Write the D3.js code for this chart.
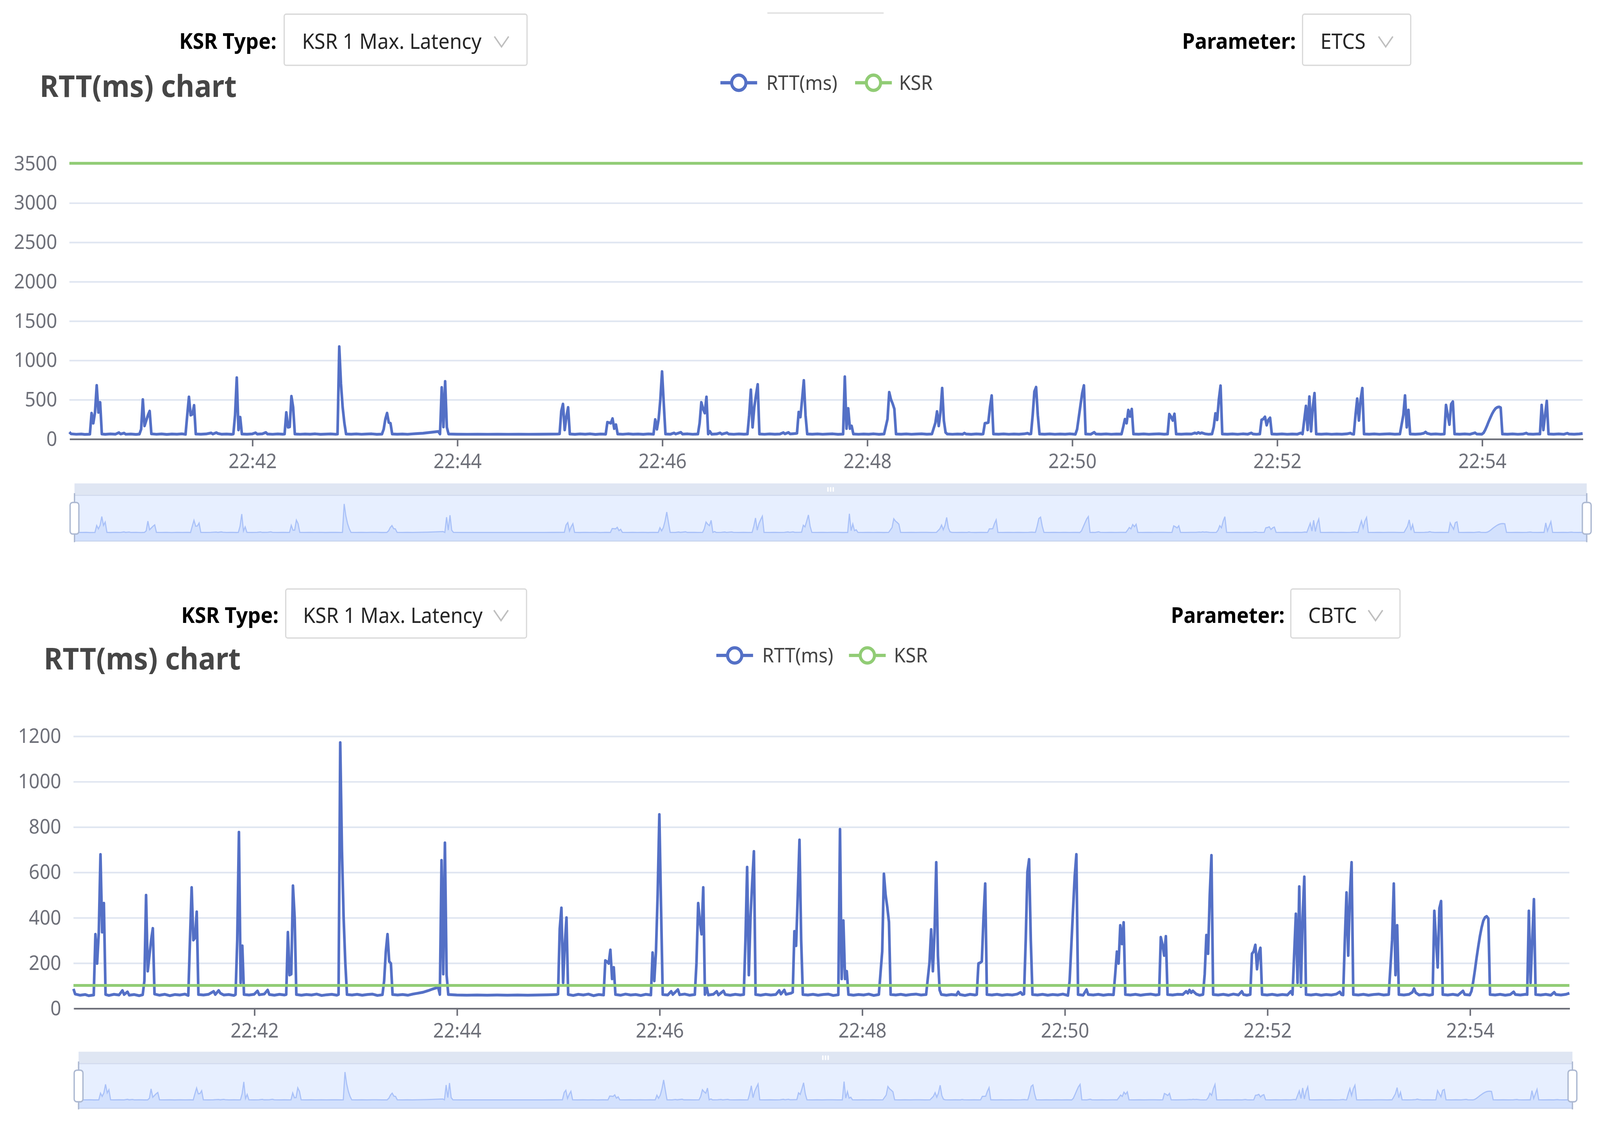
<!DOCTYPE html>
<html lang="en">
<head>
  <meta charset="UTF-8">
  <title>RTT(ms) chart</title>
  <script src="https://cdn.jsdelivr.net/npm/d3@7"></script>
  <style>
    html, body { margin: 0; padding: 0; background: #fff; overflow: hidden; }
    svg { display: block; }
    text { font-family: "Noto Sans", "Open Sans", sans-serif; }
  </style>
</head>
<body>
  <script>
    // ---- data ----
    // RTT samples: [seconds after startClock, rtt in ms]
    const startClock = "22:40:00";
    const rttSamples = [
      [13, 85], [14, 62], [17, 57], [20, 60], [22, 55], [25, 58],
      [26, 326], [27, 197], [28, 335], [29, 678], [30, 335], [31, 463], [32, 60],
      [34, 56], [37, 61], [40, 58], [42, 78], [43, 60], [45, 72], [46, 57], [49, 60], [52, 55], [54, 59],
      [55, 120], [56, 498], [57, 163], [58, 232], [59, 300], [60, 352], [61, 62],
      [64, 57], [67, 61], [70, 55], [73, 60], [76, 58], [79, 62], [81, 56],
      [82, 300], [83, 532], [84, 300], [85, 310], [86, 425], [87, 60],
      [90, 58], [93, 61], [96, 74], [97, 60], [99, 78], [100, 66], [102, 58], [105, 60], [108, 56],
      [109, 60], [110, 300], [111, 776], [112, 112], [113, 275], [114, 60],
      [117, 58], [120, 61], [122, 76], [123, 59], [126, 62], [128, 80], [129, 60], [132, 57], [135, 61], [138, 58],
      [139, 60], [140, 335], [141, 146], [142, 150], [143, 540], [144, 400], [145, 60],
      [148, 57], [151, 60], [154, 58], [157, 62], [160, 56], [163, 59], [166, 61], [169, 57],
      [170, 60], [171, 1171], [172, 700], [173, 400], [174, 200], [175, 60],
      [178, 58], [181, 61], [184, 57], [187, 60], [190, 62], [193, 56], [196, 59],
      [197, 120], [198, 250], [199, 326], [200, 206], [201, 197], [202, 60],
      [205, 58], [208, 60], [211, 57], [214, 62], [217, 66], [220, 70], [223, 77], [226, 85], [229, 92],
      [230, 60], [231, 652], [232, 150], [233, 729], [234, 146], [235, 60],
      [240, 58], [246, 57], [252, 58], [258, 57], [264, 58], [270, 57], [276, 58], [282, 57], [288, 58], [294, 59], [299, 60],
      [300, 62], [301, 350], [302, 442], [303, 112], [304, 280], [305, 399], [306, 60],
      [309, 56], [312, 61], [315, 58], [318, 62], [321, 55], [324, 60], [327, 58],
      [328, 210], [329, 205], [330, 197], [331, 257], [332, 129], [333, 180], [334, 60],
      [337, 57], [340, 62], [343, 58], [346, 60], [349, 56], [352, 61], [355, 58],
      [356, 245], [357, 120], [358, 249], [359, 500], [360, 854], [361, 446], [362, 60],
      [365, 58], [367, 74], [368, 60], [371, 82], [372, 59], [375, 62], [378, 57], [381, 60],
      [382, 200], [383, 463], [384, 380], [385, 326], [386, 532], [387, 60], [388, 94], [389, 58],
      [392, 61], [394, 74], [395, 58], [398, 76], [399, 60], [402, 57], [405, 61], [408, 58], [410, 60],
      [411, 300], [412, 622], [413, 146], [414, 400], [415, 553], [416, 691], [417, 60],
      [420, 57], [423, 61], [426, 58], [429, 60], [431, 78], [432, 62], [434, 80], [435, 61], [438, 66], [439, 70],
      [440, 339], [441, 275], [442, 500], [443, 742], [444, 300], [445, 60],
      [448, 58], [451, 61], [454, 57], [457, 60], [460, 62], [463, 56], [466, 59],
      [467, 789], [468, 129], [469, 386], [470, 129], [471, 163], [472, 60],
      [475, 57], [478, 60], [481, 58], [484, 62], [487, 56], [490, 60],
      [492, 250], [493, 592], [494, 500], [495, 446], [496, 380], [497, 60],
      [500, 58], [503, 61], [506, 57], [509, 60], [512, 62], [515, 58], [518, 60],
      [520, 200], [521, 347], [522, 163], [523, 335], [524, 643], [525, 232], [526, 80], [527, 60],
      [530, 57], [533, 60], [536, 58], [537, 72], [538, 60], [541, 56], [544, 61], [547, 58],
      [548, 60], [549, 197], [550, 200], [551, 206], [552, 400], [553, 549], [554, 60],
      [557, 58], [560, 61], [563, 57], [566, 60], [569, 58], [572, 62], [574, 70], [575, 60], [576, 62],
      [577, 300], [578, 600], [579, 656], [580, 300], [581, 60],
      [584, 58], [587, 61], [590, 57], [593, 60], [596, 58], [599, 62], [602, 56],
      [603, 120], [604, 275], [605, 430], [606, 580], [607, 678], [608, 60],
      [611, 57], [613, 82], [614, 60], [617, 58], [620, 61], [623, 57], [626, 60], [629, 59],
      [630, 150], [631, 249], [632, 197], [633, 365], [634, 283], [635, 378], [636, 60],
      [639, 58], [642, 61], [645, 57], [648, 60], [651, 62], [654, 58], [656, 60],
      [657, 313], [658, 280], [659, 232], [660, 317], [661, 60],
      [664, 58], [667, 61], [670, 60], [672, 74], [673, 66], [674, 80], [675, 68], [676, 76], [678, 62], [680, 57], [682, 60],
      [683, 150], [684, 322], [685, 240], [686, 500], [687, 674], [688, 60],
      [691, 58], [694, 61], [697, 57], [700, 62], [703, 58], [705, 74], [706, 60], [708, 57], [710, 60],
      [711, 240], [712, 250], [713, 279], [714, 172], [715, 240], [716, 266], [717, 60],
      [720, 58], [723, 61], [726, 57], [729, 60], [732, 58], [734, 74], [735, 60],
      [737, 416], [738, 112], [739, 536], [740, 95], [741, 400], [742, 579], [743, 60],
      [746, 58], [749, 61], [752, 57], [755, 60], [758, 58], [761, 62], [763, 72], [764, 60], [765, 58],
      [766, 300], [767, 510], [768, 232], [769, 500], [770, 643], [771, 60],
      [774, 58], [777, 61], [780, 57], [783, 60], [786, 62], [789, 58], [792, 60],
      [794, 300], [795, 549], [796, 146], [797, 365], [798, 60],
      [801, 58], [804, 61], [806, 70], [807, 86], [808, 68], [810, 58], [813, 61], [816, 57], [818, 60],
      [819, 429], [820, 300], [821, 180], [822, 440], [823, 472], [824, 60],
      [827, 58], [830, 61], [833, 57], [836, 76], [837, 60], [840, 58],
      [841, 75], [842, 115], [843, 165], [844, 220], [845, 270], [846, 317], [847, 355], [848, 385], [849, 400], [850, 405], [851, 395], [852, 60],
      [855, 58], [858, 61], [861, 57], [864, 60], [866, 72], [867, 60], [870, 58], [873, 61], [874, 60],
      [875, 429], [876, 112], [877, 300], [878, 480], [879, 60],
      [882, 58], [885, 61], [888, 57], [890, 70], [891, 60], [894, 58], [897, 61], [899, 66]
    ];

    const ksrTypes = ["KSR 1 Max. Latency", "KSR 1 Max. Latency"];
    const parameters = ["ETCS", "CBTC"];
    const ksrLevels = [3500, 100];          // KSR threshold per parameter
    const etcsTicks = [0, 500, 1000, 1500, 2000, 2500, 3000, 3500];
    const cbtcTicks = [0, 200, 400, 600, 800, 1000, 1200];
    const timeTicks = ["22:42", "22:44", "22:46", "22:48", "22:50", "22:52", "22:54"];
    const legendNames = ["RTT(ms)", "KSR"];
    const seriesColors = ["#5470c6", "#91cc75"];

    // ---- layout (in screenshot pixels; the viewBox stretches it to the window) ----
    const W = 1568, H = 1037;
    const layouts = [
      {
        headY: 45, typeLabelX: 271, typeBox: [278.5, 13, 238, 47], typeTextX: 296, typeChevX: 491.5,
        paramLabelX: 1270, paramBox: [1276.5, 13, 106, 47], paramTextX: 1294, paramChevX: 1358,
        titleX: 39, titleY: 89, legendY: 76, legend: [[706, 751], [838, 881]],
        plot: { left: 68, right: 1551, top: 150, bottom: 403 },
        slider: { left: 73, right: 1555, top: 444, strip: 11, bottom: 497 },
        yTicks: etcsTicks
      },
      {
        headY: 572, typeLabelX: 273, typeBox: [280, 541, 236, 45], typeTextX: 297, typeChevX: 491,
        paramLabelX: 1259, paramBox: [1265, 541, 107, 45], paramTextX: 1282, paramChevX: 1348,
        titleX: 43, titleY: 615, legendY: 602, legend: [[702, 747], [832, 876]],
        plot: { left: 72, right: 1538, top: 676, bottom: 926 },
        slider: { left: 77, right: 1541, top: 966, strip: 11, bottom: 1018 },
        yTicks: cbtcTicks
      }
    ];

    const vw = window.innerWidth || 4368;
    const vh = window.innerHeight || 2889;
    const svg = d3.select("body").append("svg")
      .attr("width", vw)
      .attr("height", vh)
      .attr("viewBox", `0 0 ${W} ${H}`)
      .attr("preserveAspectRatio", "none");

    const parseClock = d3.timeParse("%H:%M:%S");
    const parseTick = d3.timeParse("%H:%M");
    const t0 = parseClock(startClock);
    const points = rttSamples.map(d => ({ t: d3.timeSecond.offset(t0, d[0]), v: d[1] }));
    const tickDates = timeTicks.map(parseTick);
    const timeExtent = d3.extent(points, d => d.t);

    // faint bar at the very top (part of the page above)
    svg.append("line")
      .attr("x1", 752).attr("x2", 866).attr("y1", 12).attr("y2", 12)
      .attr("stroke", "#e4e4e4").attr("stroke-width", 1.5);

    layouts.forEach((L, i) => drawPanel(L, i));

    function drawSelect(g, box, label, textX, chevX, headY) {
      g.append("rect")
        .attr("x", box[0]).attr("y", box[1])
        .attr("width", box[2]).attr("height", box[3])
        .attr("rx", 2)
        .attr("fill", "#fff")
        .attr("stroke", "#d9d9d9")
        .attr("stroke-width", 1.2);
      g.append("text")
        .attr("x", textX).attr("y", headY)
        .attr("font-size", 19.5)
        .attr("fill", "#262626")
        .text(label);
      g.append("path")
        .attr("d", `M${chevX - 7},${headY - 11.5}L${chevX},${headY - 2}L${chevX + 7},${headY - 11.5}`)
        .attr("fill", "none")
        .attr("stroke", "#bfbfbf")
        .attr("stroke-width", 1.4);
    }

    function drawPanel(L, i) {
      const g = svg.append("g");
      const P = L.plot;

      // header: selects
      g.append("text")
        .attr("x", L.typeLabelX).attr("y", L.headY)
        .attr("text-anchor", "end")
        .attr("font-size", 20).attr("font-weight", 700)
        .attr("fill", "#000")
        .text("KSR Type:");
      drawSelect(g, L.typeBox, ksrTypes[i], L.typeTextX, L.typeChevX, L.headY);

      g.append("text")
        .attr("x", L.paramLabelX).attr("y", L.headY)
        .attr("text-anchor", "end")
        .attr("font-size", 20).attr("font-weight", 700)
        .attr("fill", "#000")
        .text("Parameter:");
      drawSelect(g, L.paramBox, parameters[i], L.paramTextX, L.paramChevX, L.headY);

      // title
      g.append("text")
        .attr("x", L.titleX).attr("y", L.titleY)
        .attr("font-size", 28).attr("font-weight", 700)
        .attr("fill", "#464646")
        .text("RTT(ms) chart");

      // legend
      legendNames.forEach((name, k) => {
        const [ix, tx] = L.legend[k];
        g.append("line")
          .attr("x1", ix).attr("x2", ix + 36)
          .attr("y1", L.legendY).attr("y2", L.legendY)
          .attr("stroke", seriesColors[k]).attr("stroke-width", 3);
        g.append("circle")
          .attr("cx", ix + 18).attr("cy", L.legendY).attr("r", 7)
          .attr("fill", "#fff")
          .attr("stroke", seriesColors[k]).attr("stroke-width", 3);
        g.append("text")
          .attr("x", tx).attr("y", L.legendY + 6.5)
          .attr("font-size", 18.5)
          .attr("fill", "#444")
          .text(name);
      });

      // scales
      const x = d3.scaleTime().domain(timeExtent).range([P.left, P.right]);
      const y = d3.scaleLinear()
        .domain([0, d3.max(L.yTicks)])
        .range([P.bottom, P.top]);

      // y axis labels + split lines
      const yAxis = g.append("g")
        .attr("transform", `translate(${P.left},0)`)
        .call(d3.axisLeft(y)
          .tickValues(L.yTicks)
          .tickFormat(d3.format("d"))
          .tickSize(-(P.right - P.left))
          .tickPadding(12));
      yAxis.select(".domain").remove();
      yAxis.selectAll(".tick line").attr("stroke", "#e0e6f1").attr("stroke-width", 1.5);
      yAxis.selectAll(".tick text")
        .attr("fill", "#6e7079")
        .attr("font-size", 18.5)
        .attr("font-family", "'Noto Sans', sans-serif");

      // RTT line
      const line = d3.line().x(d => x(d.t)).y(d => y(d.v));
      g.append("path")
        .datum(points)
        .attr("d", line)
        .attr("fill", "none")
        .attr("stroke", seriesColors[0])
        .attr("stroke-width", 2.6)
        .attr("stroke-linejoin", "round");

      // KSR threshold line
      const ksrPoints = timeExtent.map(t => ({ t: t, v: ksrLevels[i] }));
      g.append("path")
        .datum(ksrPoints)
        .attr("d", line)
        .attr("fill", "none")
        .attr("stroke", seriesColors[1])
        .attr("stroke-width", 2.6);

      // x axis
      const xAxis = g.append("g")
        .attr("transform", `translate(0,${P.bottom})`)
        .call(d3.axisBottom(x)
          .tickValues(tickDates)
          .tickFormat(d3.timeFormat("%H:%M"))
          .tickSize(7).tickSizeOuter(0).tickPadding(7));
      xAxis.select(".domain").attr("stroke", "#6e7079").attr("stroke-width", 1.5);
      xAxis.selectAll(".tick line").attr("stroke", "#6e7079").attr("stroke-width", 1.5);
      xAxis.selectAll(".tick text")
        .attr("fill", "#6e7079")
        .attr("font-size", 18.5)
        .attr("font-family", "'Noto Sans', sans-serif");

      // data zoom slider
      const S = L.slider;
      const fTop = S.top + S.strip;
      g.append("rect")
        .attr("x", S.left).attr("y", S.top)
        .attr("width", S.right - S.left).attr("height", S.strip)
        .attr("fill", "#d2dbee").attr("fill-opacity", 0.7);
      g.append("rect")
        .attr("x", S.left).attr("y", fTop)
        .attr("width", S.right - S.left).attr("height", S.bottom - fTop)
        .attr("fill", "rgb(135,175,255)").attr("fill-opacity", 0.2)
        .attr("stroke", "#d2dbee").attr("stroke-width", 1);

      // slider data shadow (ECharts pads the value extent by 30% on each side)
      const vExt = d3.extent(points, d => d.v);
      const pad = (vExt[1] - vExt[0]) * 0.3;
      const sx = d3.scaleTime().domain(timeExtent).range([S.left, S.right]);
      const sy = d3.scaleLinear().domain([vExt[0] - pad, vExt[1] + pad]).range([S.bottom, fTop]);
      g.append("path")
        .datum(points)
        .attr("d", d3.area().x(d => sx(d.t)).y0(S.bottom).y1(d => sy(d.v)))
        .attr("fill", "#8fb0f7").attr("fill-opacity", 0.22);
      g.append("path")
        .datum(points)
        .attr("d", d3.line().x(d => sx(d.t)).y(d => sy(d.v)))
        .attr("fill", "none")
        .attr("stroke", "#a9c1f8").attr("stroke-width", 1.1);

      // move handle grip
      const midX = (S.left + S.right) / 2;
      [-2.6, 0, 2.6].forEach(dx => {
        g.append("rect")
          .attr("x", midX + dx - 0.7).attr("y", S.top + S.strip / 2 - 2.2)
          .attr("width", 1.4).attr("height", 4.4).attr("rx", 0.7)
          .attr("fill", "#fff");
      });

      // range handles
      const hMid = (fTop + S.bottom) / 2;
      [S.left, S.right].forEach(hx => {
        g.append("line")
          .attr("x1", hx).attr("x2", hx)
          .attr("y1", fTop - 2).attr("y2", S.bottom + 1)
          .attr("stroke", "#acb8d1").attr("stroke-width", 1.3);
        g.append("rect")
          .attr("x", hx - 4.3).attr("y", hMid - 14.5)
          .attr("width", 8.6).attr("height", 29)
          .attr("rx", 2.5)
          .attr("fill", "#fff")
          .attr("stroke", "#acb8d1").attr("stroke-width", 1.3);
      });
    }
  </script>
</body>
</html>
